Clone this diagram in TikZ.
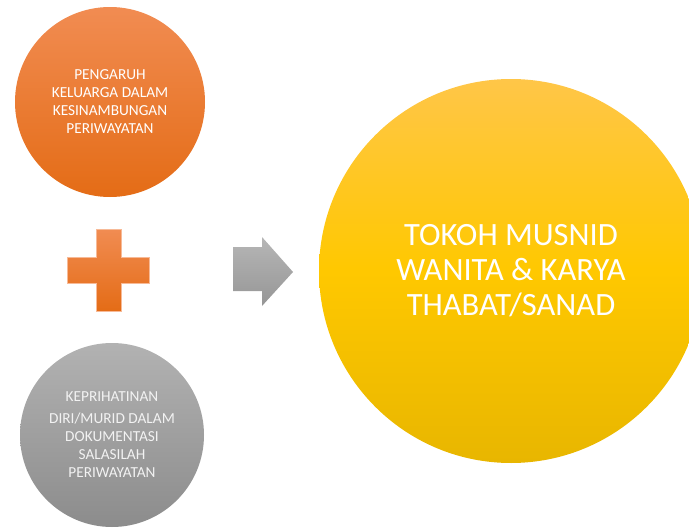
\documentclass[tikz,border=0pt]{standalone}
\usepackage{fontspec}
\setmainfont{Carlito}
\definecolor{orTop}{RGB}{241,140,82}
\definecolor{orBot}{RGB}{228,108,22}
\definecolor{grTop}{RGB}{178,178,178}
\definecolor{grBot}{RGB}{140,140,140}
\definecolor{yeTop}{RGB}{255,198,72}
\definecolor{yeMid}{RGB}{255,200,0}
\definecolor{yeBot}{RGB}{232,182,0}
\definecolor{arTop}{RGB}{182,182,182}
\definecolor{arBot}{RGB}{150,150,150}
\definecolor{lighttext}{RGB}{242,242,242}
\begin{document}
\begin{tikzpicture}[x=1pt,y=-1pt,
  bubble/.style={circle, inner sep=0pt, align=center, draw=none},
  smalltext/.style={font=\fontsize{15.3}{18}\selectfont},
  bigtext/.style={font=\fontsize{32.5}{35}\selectfont}]
\useasboundingbox (0,0) rectangle (689,530);
\node[bubble, smalltext, minimum size=190pt, top color=orTop, bottom color=orBot, text=white]
  (infl) at (110,102) {PENGARUH\\KELUARGA DALAM\\KESINAMBUNGAN\\PERIWAYATAN};
\node[bubble, smalltext, minimum size=184pt, top color=grTop, bottom color=grBot, text=lighttext]
  (conc) at (112,435) {KEPRIHATINAN\\[4pt]DIRI/MURID DALAM\\DOKUMENTASI\\SALASILAH\\PERIWAYATAN};
\node[bubble, bigtext, minimum size=384pt, top color=yeTop, bottom color=yeBot, middle color=yeMid, text=white]
  (result) at (511,271) {TOKOH MUSNID\\WANITA \& KARYA\\THABAT/SANAD};
\shade[top color=orTop, bottom color=orBot, draw=orTop!60!white, line width=0.6pt]
  (96,229) -- (121,229) -- (121,257) -- (149,257) -- (149,283) -- (121,283) -- (121,311)
  -- (96,311) -- (96,283) -- (67,283) -- (67,257) -- (96,257) -- cycle;
\shade[top color=arTop, bottom color=arBot]
  (233,247) -- (262,247) -- (262,237) -- (293,272) -- (262,306) -- (262,291) -- (233,291) -- cycle;
\end{tikzpicture}
\end{document}
